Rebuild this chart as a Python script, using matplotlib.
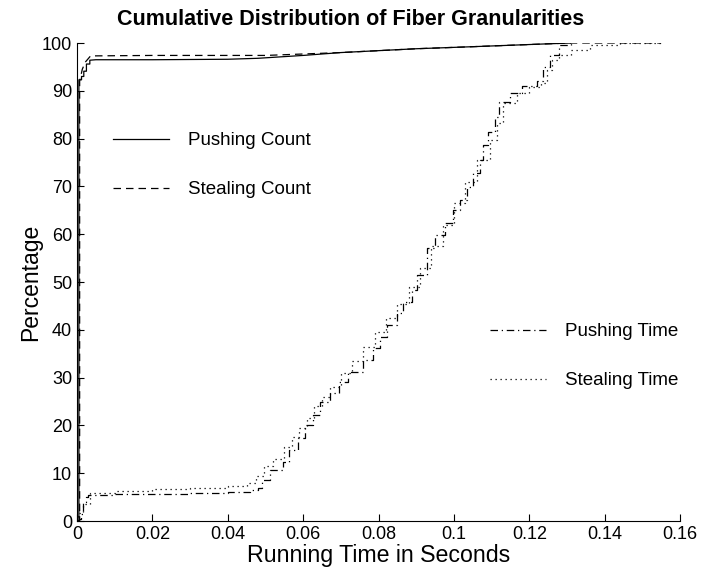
import matplotlib
matplotlib.use("Agg")
import matplotlib.pyplot as plt
from matplotlib.ticker import FormatStrFormatter, MultipleLocator

plt.rcParams['font.family'] = ['Liberation Sans', 'DejaVu Sans']

# fiber counts (percent of fibers with running time <= t)
push_count_t = [0, 0.0005, 0.0005, 0.0012, 0.0012, 0.0018, 0.0018, 0.0025, 0.0025,
                0.0034, 0.0034, 0.005, 0.02, 0.04, 0.048, 0.06, 0.07, 0.08, 0.09,
                0.104, 0.114, 0.124, 0.131]
push_count_p = [0, 0, 92.3, 92.3, 93.0, 93.0, 94.1, 94.1, 95.6, 95.6, 96.4, 96.5,
                96.5, 96.6, 96.8, 97.4, 98.0, 98.4, 98.8, 99.2, 99.5, 99.8, 100]

steal_count_t = [0, 0.0007, 0.0007, 0.0014, 0.0022, 0.0036, 0.02, 0.05, 0.07,
                 0.09, 0.104, 0.124, 0.131, 0.155]
steal_count_p = [0, 0, 92.0, 94.5, 96.0, 97.3, 97.4, 97.4, 98.0, 98.8, 99.2,
                 99.8, 100, 100]

# running time (percent of total time spent in fibers shorter than t)
push_time_t = [0, 0.0005, 0.001, 0.0016, 0.0024, 0.003, 0.004, 0.01, 0.02, 0.03,
               0.04, 0.046, 0.048, 0.049, 0.0512, 0.0547, 0.0563, 0.0587, 0.0605,
               0.0627, 0.0645, 0.0671, 0.0695, 0.0719, 0.0759, 0.0785, 0.0804,
               0.0822, 0.0849, 0.0865, 0.0889, 0.0902, 0.0929, 0.095, 0.0976,
               0.0998, 0.1016, 0.1035, 0.1051, 0.107, 0.1077, 0.109, 0.111, 0.112,
               0.115, 0.118, 0.122, 0.1236, 0.1255, 0.128, 0.131]
push_time_p = [0, 0.5, 1.5, 4.0, 5.0, 5.4, 5.5, 5.6, 5.7, 5.9, 6.1, 6.5, 7.0, 8.6,
               10.7, 12.3, 14.9, 17.4, 20.0, 22.2, 24.9, 26.8, 29.1, 31.2, 33.7,
               36.2, 38.5, 41.0, 43.5, 45.8, 48.3, 51.5, 57.1, 59.8, 62.3, 65.0,
               67.2, 69.9, 72.8, 75.5, 78.7, 81.4, 84.5, 87.7, 89.5, 91.0, 92.0,
               95.0, 97.5, 99.6, 100]

steal_time_t = [0, 0.0003, 0.0015, 0.0034, 0.01, 0.02, 0.03, 0.04, 0.045, 0.0475,
                0.0495, 0.052, 0.055, 0.057, 0.059, 0.061, 0.063, 0.065, 0.067,
                0.070, 0.073, 0.076, 0.079, 0.082, 0.085, 0.088, 0.091, 0.094,
                0.097, 0.100, 0.103, 0.106, 0.1096, 0.1114, 0.113, 0.1167, 0.120,
                0.123, 0.1247, 0.126, 0.128, 0.131, 0.136, 0.144, 0.155]
steal_time_p = [0, 1.7, 3.5, 5.9, 6.3, 6.6, 6.9, 7.3, 8.0, 9.5, 11.5, 13.0, 15.5,
                17.5, 19.5, 21.5, 24.0, 26.0, 28.0, 31.0, 33.5, 36.5, 39.5, 42.5,
                45.5, 49.0, 53.0, 57.5, 62.0, 66.5, 71.0, 75.5, 79.7, 83.3, 87.4,
                89.5, 90.8, 91.6, 94.4, 96.4, 97.5, 98.5, 99.6, 100, 100]

fig = plt.figure(figsize=(7.02, 5.78), dpi=100)
ax = fig.add_axes([0.1097, 0.0986, 0.859, 0.827])

lw = 0.9
l1, = ax.plot(push_count_t, push_count_p, color='black', lw=lw, linestyle='-')
l2, = ax.plot(steal_count_t, steal_count_p, color='black', lw=lw,
              linestyle=(0, (6, 4)))
l3, = ax.plot(push_time_t, push_time_p, color='black', lw=lw,
              linestyle=(0, (6, 3, 1, 3)), drawstyle='steps-post')
l4, = ax.plot(steal_time_t, steal_time_p, color='black', lw=lw,
              linestyle=(0, (1, 3)), drawstyle='steps-post')

ax.set_xlim(0, 0.16)
ax.set_ylim(0, 100)
ax.xaxis.set_major_locator(MultipleLocator(0.02))
ax.yaxis.set_major_locator(MultipleLocator(10))
ax.xaxis.set_major_formatter(FormatStrFormatter('%g'))
ax.tick_params(direction='in', length=5, width=0.8, labelsize=13)
ax.spines['top'].set_visible(False)
ax.spines['right'].set_visible(False)

# title centred on the figure rather than the axes
ax.set_title('Cumulative Distribution of Fiber Granularities',
             fontsize=15.5, fontweight='bold', pad=13, x=(351 - 77) / 603)
ax.set_xlabel('Running Time in Seconds', fontsize=16.7, labelpad=1)
ax.set_ylabel('Percentage', fontsize=16.5, labelpad=0)

leg_kw = dict(frameon=False, fontsize=13.5, handlelength=3.0,
              handletextpad=1.0, labelspacing=1.7, borderaxespad=0,
              borderpad=0, loc='upper left')
leg1 = ax.legend([l1, l2], ['Pushing Count', 'Stealing Count'],
                 bbox_to_anchor=(113 / 702, 1 - 132 / 578),
                 bbox_transform=fig.transFigure, **leg_kw)
ax.add_artist(leg1)
ax.legend([l3, l4], ['Pushing Time', 'Stealing Time'],
          bbox_to_anchor=(490 / 702, 1 - 323 / 578),
          bbox_transform=fig.transFigure, **leg_kw)

fig.savefig('out.png', dpi=100)
